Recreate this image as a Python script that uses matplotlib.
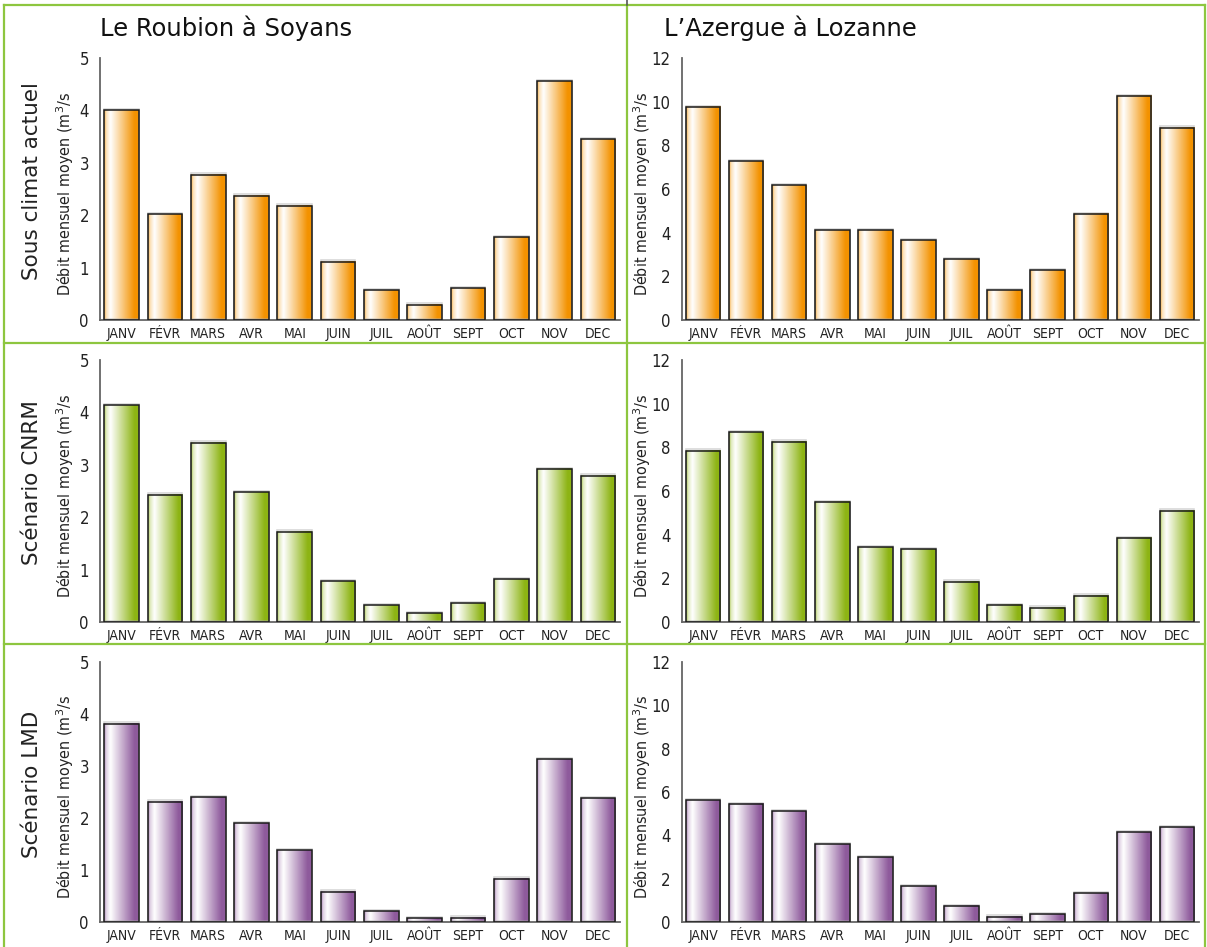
import numpy as np
import matplotlib.pyplot as plt
from matplotlib.lines import Line2D
from matplotlib.colors import to_rgb
import matplotlib.patheffects as pe

months = ['JANV', 'FÉVR', 'MARS', 'AVR', 'MAI', 'JUIN', 'JUIL', 'AOÛT', 'SEPT', 'OCT', 'NOV', 'DEC']
rivers = ['Le Roubion à Soyans', "L’Azergue à Lozanne"]
scenarios = ['Sous climat actuel', 'Scénario CNRM', 'Scénario LMD']

roubion_actuel = [4.0, 2.02, 2.77, 2.37, 2.18, 1.11, 0.57, 0.29, 0.61, 1.58, 4.56, 3.45]
roubion_cnrm = [4.14, 2.43, 3.42, 2.48, 1.72, 0.78, 0.32, 0.17, 0.36, 0.82, 2.92, 2.79]
roubion_lmd = [3.81, 2.31, 2.40, 1.90, 1.38, 0.58, 0.21, 0.07, 0.08, 0.83, 3.13, 2.38]

azergue_actuel = [9.76, 7.28, 6.18, 4.12, 4.12, 3.66, 2.79, 1.37, 2.29, 4.86, 10.26, 8.80]
azergue_cnrm = [7.85, 8.70, 8.25, 5.50, 3.42, 3.33, 1.85, 0.78, 0.65, 1.20, 3.85, 5.10]
azergue_lmd = [5.63, 5.45, 5.12, 3.60, 3.00, 1.66, 0.74, 0.25, 0.35, 1.32, 4.15, 4.38]

row_colors = ['#F39200', '#8DB414', '#8E5A9C']
ylims = [5, 12]
yticks = [[0, 1, 2, 3, 4, 5], [0, 2, 4, 6, 8, 10, 12]]
data = [[roubion_actuel, azergue_actuel],
        [roubion_cnrm, azergue_cnrm],
        [roubion_lmd, azergue_lmd]]

W, H = 1207, 947
fig = plt.figure(figsize=(W / 100, H / 100), dpi=100)

# axes boxes in pixels (left, top, right, bottom)
col_x = [(100, 619.5), (681.5, 1198.5)]
row_y = [(58, 320), (360, 622), (662, 922)]
ylabel_x = [65, 642]

cond = dict(family='DejaVu Sans', stretch='condensed')


def gradient_bar(ax, x, h, w, color):
    c = np.array(to_rgb(color))
    t = np.linspace(0, 1, 64)
    mix = np.interp(t, [0, 0.05, 0.18, 0.88, 1.0], [0.8, 0.3, 0.0, 1.0, 1.0])
    img = 1 - mix[:, None] * (1 - c[None, :])
    img = img[None, :, :]
    ax.imshow(img, extent=[x - w / 2, x + w / 2, 0, h], aspect='auto',
              interpolation='bilinear', zorder=2)
    r = plt.Rectangle((x - w / 2, 0), w, h, fill=False, ec='#1a1a1a', lw=1.1, zorder=3,
                      path_effects=[pe.SimpleLineShadow(offset=(0, 1.0), shadow_color='#aaaaaa', alpha=0.5),
                                    pe.Normal()])
    ax.add_patch(r)


for i in range(3):
    for j in range(2):
        x0, x1 = col_x[j]
        y0, y1 = row_y[i]
        ax = fig.add_axes([x0 / W, 1 - y1 / H, (x1 - x0) / W, (y1 - y0) / H])
        vals = data[i][j]
        for k, v in enumerate(vals):
            gradient_bar(ax, k, v, 0.8, row_colors[i])
        ax.set_xlim(-0.5, 11.5)
        ax.set_ylim(0, ylims[j])
        ax.set_xticks(range(12))
        ax.set_xticklabels(months, fontsize=10, color='#222222', **cond)
        ax.set_yticks(yticks[j])
        ax.set_yticklabels([str(v) for v in yticks[j]], fontsize=12, color='#222222', **cond)
        ax.tick_params(length=0)
        ax.tick_params(axis='y', pad=8)
        ax.tick_params(axis='x', pad=5)
        for s in ['top', 'right']:
            ax.spines[s].set_visible(False)
        for s in ['left', 'bottom']:
            ax.spines[s].set_color('#666666')
            ax.spines[s].set_linewidth(1.3)
        ax.set_facecolor('none')
        fig.text(ylabel_x[j] / W, 1 - ((y0 + y1) / 2 + 5) / H, 'Débit mensuel moyen (m$^3$/s',
                 rotation=90, ha='center', va='center', fontsize=11.5, color='#222222', **cond)

# row labels and titles
for i, s in enumerate(scenarios):
    yc = (row_y[i][0] + row_y[i][1]) / 2 - 8
    fig.text(32 / W, 1 - yc / H, s, rotation=90, ha='center', va='center', fontsize=15.5, color='#222222')
fig.text(100 / W, 1 - 36 / H, rivers[0], fontsize=17.5, ha='left', va='baseline', color='#111111')
fig.text(664 / W, 1 - 36 / H, rivers[1], fontsize=17.5, ha='left', va='baseline', color='#111111')

# panel borders
green = '#8DC63F'
def line(xs, ys, color=green, lw=1.6):
    fig.add_artist(Line2D([x / W for x in xs], [1 - y / H for y in ys], color=color, lw=lw))

line([4, 1205], [5, 5])
line([4, 4], [5, 947])
line([1205, 1205], [5, 947])
line([627, 627], [5, 947])
line([627, 627], [0, 5], color='#555555', lw=1.2)
line([4, 1205], [343, 343])
line([4, 1205], [644, 644])

fig.savefig('out.png', dpi=100)
